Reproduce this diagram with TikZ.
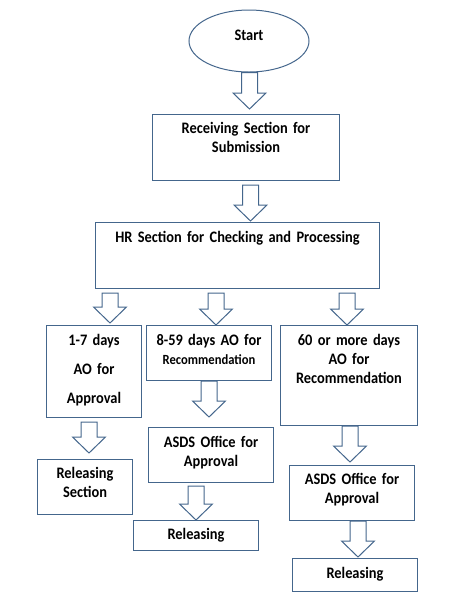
\documentclass[tikz,border=0pt]{standalone}
\usepackage{fontspec}
\setmainfont{Carlito}[FakeStretch=0.9, WordSpace=0.5]
\usetikzlibrary{shapes.geometric,calc}
\definecolor{edge}{RGB}{68,102,140}
% hollow block arrow: x of shaft, from point, tip point
\newcommand{\blockdown}[3]{%
  \draw[block] let \p1=(#2), \p2=(#3) in
    (#1pt-8pt,\y1) -- (#1pt+8pt,\y1) -- (#1pt+8pt,\y2+16pt) -- (#1pt+16.5pt,\y2+16pt)
    -- (#1pt,\y2) -- (#1pt-16.5pt,\y2+16pt) -- (#1pt-8pt,\y2+16pt) -- cycle;}

\begin{document}
\begin{tikzpicture}
        [
    x=1pt, y=-1pt,
    basic/.style={draw=edge, line width=1pt, font=\fontsize{16}{19}\selectfont\bfseries},
    box/.style={basic, inner sep=0pt, anchor=north west, align=center},
    block/.style={draw=edge, line width=1pt, fill=white, line join=miter}
    ]
    \useasboundingbox (0,0) rectangle (455,603);

    % Inicio
    \node [basic, ellipse, minimum width=120pt, minimum height=62pt, text height=11pt, text depth=13pt] (start) at (249,41) {Start};
    \node [box, text width=187pt, text height=19pt, text depth=47pt] (recv) at (152,114) {Receiving Section for\\Submission};
    \node [box, text width=284pt, text height=20pt, text depth=46pt] (hr) at (95,222) {HR Section for Checking and Processing};
    \blockdown{249.5}{start.south}{[yshift=5pt]recv.north}
    \blockdown{250.5}{[yshift=-4pt]recv.south}{[yshift=1pt]hr.north}
    % Ramas por dias
    \node [box, text width=95pt, text height=20pt, text depth=72pt] (d17) at (46,325) {1-7 days\\[10pt]AO for\\[10pt]Approval};
    \node [box, text width=125pt, text height=20pt, text depth=35pt] (d859) at (146,325) {8-59 days AO for\\{\fontsize{14}{17}\selectfont Recommendation}};
    \node [box, text width=137pt, text height=20pt, text depth=80pt] (d60) at (280,325) {60 or more days\\AO for\\Recommendation};
    \blockdown{110}{[yshift=-4pt]hr.south}{[yshift=2pt]d17.north}
    \blockdown{216}{[yshift=-4pt]hr.south}{d859.north}
    \blockdown{347}{[yshift=-4pt]hr.south}{d60.north}
    % Rama 1-7 dias
    \node [box, text width=95pt, text height=19pt, text depth=36pt] (rel17) at (37,459) {Releasing\\Section};
    \blockdown{89}{[yshift=-4pt]d17.south}{[yshift=6pt]rel17.north}
    % Rama 8-59 dias
    \node [box, text width=125pt, text height=20pt, text depth=35pt] (asds859) at (148,427) {ASDS Office for\\Approval};
    \node [box, text width=125pt, text height=19pt, text depth=11pt] (rel859) at (133,520) {Releasing};
    \blockdown{209}{d859.south}{[yshift=10pt]asds859.north}
    \blockdown{196}{[yshift=-3pt]asds859.south}{rel859.north}
    % Rama 60 dias o mas
    \node [box, text width=125pt, text height=19pt, text depth=36pt] (asds60) at (289,465) {ASDS Office for\\Approval};
    \node [box, text width=125pt, text height=20pt, text depth=13pt] (rel60) at (292,558) {Releasing};
    \blockdown{350}{d60.south}{[yshift=3pt]asds60.north}
    \blockdown{358}{asds60.south}{[yshift=1pt]rel60.north}
\end{tikzpicture}
\end{document}
